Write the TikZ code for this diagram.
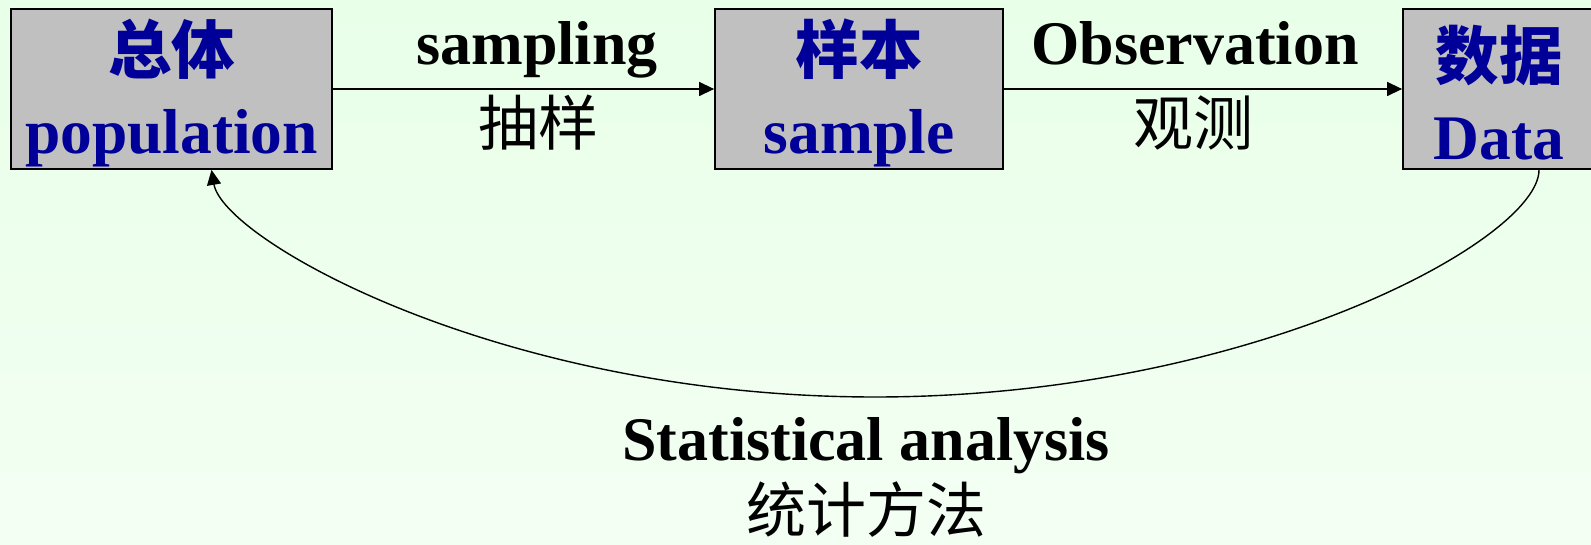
\documentclass[tikz,border=0pt]{standalone}
\usepackage{fontspec}
\setmainfont{Liberation Serif}
\newfontfamily\cjk{Noto Sans CJK SC}
\usetikzlibrary{arrows.meta}
\definecolor{bgtop}{RGB}{232,255,232}
\definecolor{bgbottom}{RGB}{243,255,243}
\definecolor{boxgray}{RGB}{192,192,192}
\definecolor{boxblue}{RGB}{0,0,153}
\newcommand{\cnline}[1]{\rule{0pt}{62pt}{\cjk #1}}

\begin{document}
\begin{tikzpicture}[x=1pt,y=-1pt,
    stream/.style={-{Triangle[length=15pt,width=14pt]},line width=1.4pt},
    stage/.style={draw,line width=1.8pt,fill=boxgray,inner sep=0pt,minimum height=160pt,
        align=center,text=boxblue,font=\fontsize{63.5}{80}\selectfont\bfseries},
    lbl/.style={anchor=base,font=\fontsize{62}{74}\selectfont\bfseries},
    lblcn/.style={anchor=base,font=\fontsize{60}{70}\selectfont\cjk}]
    %background
    \clip (0,0) rectangle (1591,545);
    \shade [top color=bgtop,bottom color=bgbottom] (0,0) rectangle (1591,545);
    %stages
    \node [stage,minimum width=321pt] (pop) at (171.5,89) {\cnline{总体}\\population};
    \node [stage,minimum width=288pt] (smp) at (859,89) {\cnline{样本}\\sample};
    \node [stage,minimum width=192pt] (data) at (1499,89) {\cnline{数据}\\Data};
    %sampling
    \draw [stream] (pop) -- (smp);
    \node [lbl] (samplingtxt) at (537,65) {sampling};
    \node [lblcn] (samplingcn) at (538,146) {抽样};
    %observation
    \draw [stream] (smp) -- (data);
    \node [lbl] (obstxt) at (1195,65) {Observation};
    \node [lblcn] (obscn) at (1193,146) {观测};
    %analysis
    \coordinate (low) at (875,397);
    \draw [stream] ([xshift=40pt]data.south) .. controls +(0,70) and +(375,0) .. (low)
                   .. controls +(-375,0) and +(12,70) .. ([xshift=40pt]pop.south);
    \node [lbl] (stattxt) at (866,460) {Statistical analysis};
    \node [lblcn] (statcn) at (866,532) {统计方法};
\end{tikzpicture}
\end{document}
